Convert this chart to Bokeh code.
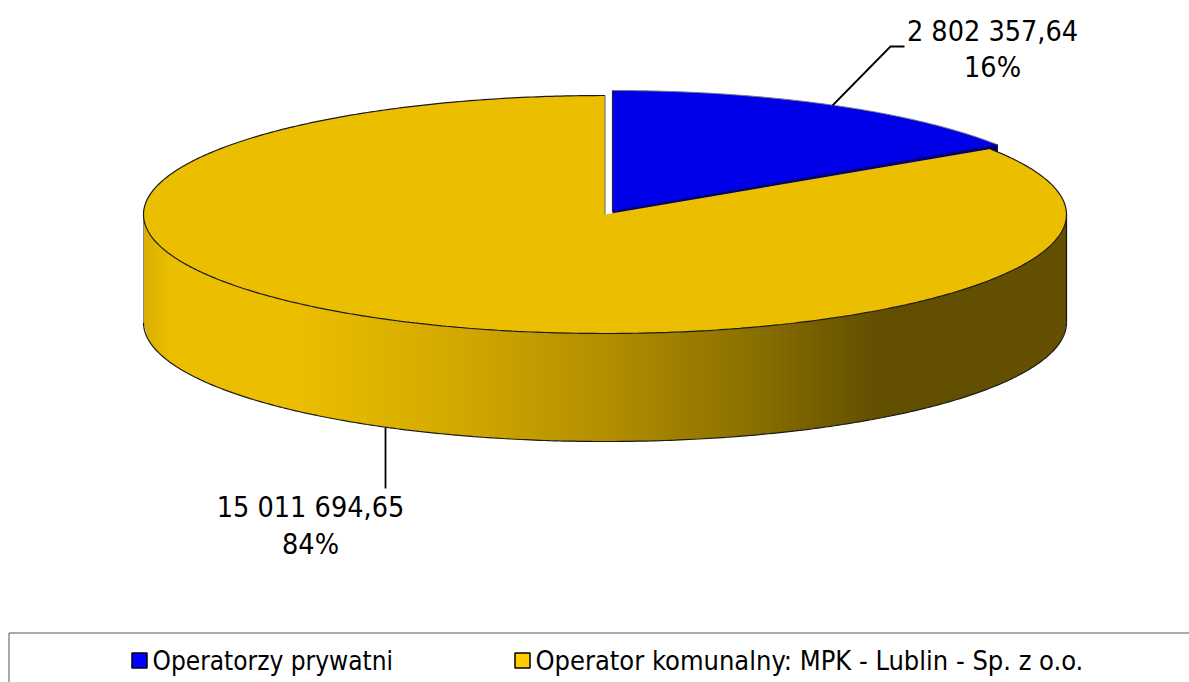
import numpy as np
from bokeh.plotting import figure
from bokeh.models import Range1d
from bokeh.core.properties import value
from bokeh.embed import file_html
from bokeh.resources import INLINE

# data
categories = ["Operatorzy prywatni", "Operator komunalny: MPK - Lublin - Sp. z o.o."]
amounts = [2802357.64, 15011694.65]
value_labels = ["2 802 357,64", "15 011 694,65"]
percent_labels = ["16%", "84%"]

# style / layout
FONT = value("DejaVu Sans Condensed")
W, H = 1189, 682
CX, CY, RX, RY, DEPTH = 604.5, 214.0, 461.5, 119.0, 108.0
BX, BY, BRY = 612.0, 211.0, 121.0
TOP_YELLOW, TOP_BLUE, BLUE_WALL = "#ECBE00", "#0000E8", "#000078"
LEG_COLORS = ["#0000FF", "#FFCC00"]
grad_x = [143, 170, 300, 450, 600, 750, 880, 1066]
grad_r = [216, 236, 236, 212, 180, 140, 98, 101]
grad_g = [174, 190, 190, 170, 144, 112, 79, 81]

p = figure(width=W, height=H, x_range=Range1d(0, W), y_range=Range1d(H, 0),
           x_axis_location=None, y_axis_location=None, toolbar_location=None,
           output_backend="svg", min_border=0, outline_line_color=None,
           background_fill_color="white", border_fill_color="white")
p.grid.visible = False

fracs = np.array(amounts) / sum(amounts)
split = 2 * np.pi * fracs[0]


def ell(t, cx, cy, ry):
    t = np.asarray(t)
    return cx + RX * np.sin(t), cy - ry * np.cos(t)


# side wall with horizontal gradient
edges = np.arange(143.0, CX + RX + 3, 3.0)
edges[-1] = CX + RX
xs, ys, cols = [], [], []
for a, b in zip(edges[:-1], edges[1:]):
    b2 = min(b + 1, CX + RX)
    xx = np.array([a, b2])
    up = CY + RY * np.sqrt(np.clip(1 - ((xx - CX) / RX) ** 2, 0, 1))
    xs.append([a, b2, b2, a])
    ys.append([up[0], up[1], up[1] + DEPTH, up[0] + DEPTH])
    m = (a + b) / 2
    cols.append("#%02x%02x00" % (int(np.interp(m, grad_x, grad_r)), int(np.interp(m, grad_x, grad_g))))
p.patches(xs, ys, fill_color=cols, line_color=None)

# outline of wall
t = np.linspace(np.pi / 2, 3 * np.pi / 2, 300)
lx, ly = ell(t, CX, CY + DEPTH, RY)
p.line(lx, ly, line_color="#1a1a1a", line_width=1.2)
p.line([CX + RX, CX + RX], [CY, CY + DEPTH], line_color="#111111", line_width=1.2)
p.line([CX - RX, CX - RX], [CY, CY + DEPTH], line_color="#888888", line_width=1)

# blue wall, then blue top
tx, ty = ell(split, BX, BY, BRY)
p.patch([BX, tx, tx, BX], [BY, ty, ty + DEPTH, BY + DEPTH], fill_color=BLUE_WALL, line_color=None)
t = np.linspace(0, split, 120)
bx, by = ell(t, BX, BY, BRY)
p.patch(np.r_[BX, bx], np.r_[BY, by], fill_color=TOP_BLUE, line_color=None)
p.line(bx, by, line_color="#777788", line_width=1)
p.line([BX, BX], [BY, by[0]], line_color="#222244", line_width=1.2)
p.line([BX, tx], [BY, ty], line_color="#000050", line_width=1)

# yellow top
t = np.linspace(split, 2 * np.pi, 500)
yx, yy = ell(t, CX, CY, RY)
p.patch(np.r_[CX, yx], np.r_[CY, yy], fill_color=TOP_YELLOW, line_color=None)
p.line(yx, yy, line_color="#1a1a1a", line_width=1.2)
p.line([CX, CX], [CY, yy[-1]], line_color="#777777", line_width=1.2)

# leader lines
p.line([832, 890, 904], [105, 46, 46], line_color="black", line_width=1.8)
p.line([385, 385], [427, 488], line_color="black", line_width=1.8)

# data labels
lab_x = [992, 310]
lab_y1 = [31, 507]
lab_y2 = [67, 544]
p.text(lab_x, lab_y1, text=value_labels, text_align="center", text_baseline="middle",
       text_font=FONT, text_font_size="28.5px", text_color="black")
p.text(lab_x, lab_y2, text=percent_labels, text_align="center", text_baseline="middle",
       text_font=FONT, text_font_size="28.5px", text_color="black")

# legend
p.line([8.5, 8.5], [632.5, H], line_color="#555555", line_width=1)
p.line([8.5, W], [632.5, 632.5], line_color="#555555", line_width=1)
sw_l = [131.5, 514.5]
sw_w = 15
p.quad(left=sw_l, right=[s + sw_w for s in sw_l], top=[652.5, 652.5], bottom=[667.5, 667.5],
       fill_color=LEG_COLORS, line_color="black", line_width=1.5)
p.text([152], [660], text=categories[:1], text_align="left", text_baseline="middle",
       text_font=FONT, text_font_size="26px", text_color="black")
p.text([535], [660], text=categories[1:], text_align="left", text_baseline="middle",
       text_font=FONT, text_font_size="27px", text_color="black")

open("out.html", "w").write(file_html(p, INLINE))
